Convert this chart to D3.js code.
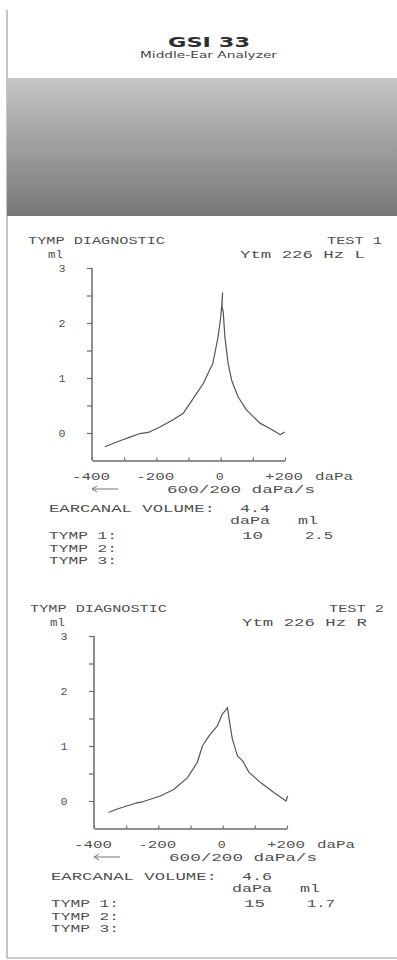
<!DOCTYPE html>
<html>
<head>
<meta charset="utf-8">
<script src="https://cdn.jsdelivr.net/npm/d3@7"></script>
<style>
  html, body { margin: 0; padding: 0; background: #fff; }
  svg { display: block; }
</style>
</head>
<body>
<svg id="chart" width="397" height="960"></svg>
<script>
// ---------------- DATA ----------------
const xTickValues = [-400, -300, -200, -100, 0, 100, 200];
const xLabelValues = [-400, -200, 0, 200];
const xLabelTexts = ["-400", "-200", "0", "+200"];
const yTickValues = [0, 0.5, 1, 1.5, 2, 2.5, 3];
const yLabelValues = [0, 1, 2, 3];

// Test 1 (L)
const test1Pressure = [-360, -335, -313, -280, -251, -225, -189, -148, -116, -85, -54, -34, -25, -18, -8, 0, 3, 6, 4, 8, 13, 23, 34, 54, 80, 122, 150, 174, 185, 199];
const test1Volume   = [-0.25, -0.19, -0.14, -0.07, -0.01, 0.01, 0.11, 0.24, 0.36, 0.63, 0.90, 1.15, 1.25, 1.45, 1.75, 2.10, 2.30, 2.55, 2.30, 2.20, 1.75, 1.27, 0.96, 0.66, 0.42, 0.18, 0.09, 0.01, -0.03, 0.02];
// Test 2 (R)
const test2Pressure = [-355, -330, -298, -270, -246, -194, -152, -110, -79, -63, -43, -30, -17, -1, 12, 15, 20, 30, 46, 62, 82, 119, 160, 197, 202];
const test2Volume   = [-0.21, -0.15, -0.09, -0.04, -0.01, 0.09, 0.21, 0.42, 0.70, 1.00, 1.18, 1.27, 1.36, 1.58, 1.67, 1.70, 1.49, 1.13, 0.82, 0.73, 0.52, 0.33, 0.15, 0.00, 0.09];

const testNames = ["TEST 1", "TEST 2"];
const probeLabels = ["Ytm 226 Hz L", "Ytm 226 Hz R"];
const earcanalVolumes = ["4.4", "4.6"];
const tymp1Pressure = ["10", "15"];
const tymp1Volume = ["2.5", "1.7"];

// ---------------- DRAW ----------------
const svg = d3.select("#chart");
const ink = "#505050";
const mono = "'Liberation Mono', 'DejaVu Sans Mono', monospace";

// paper edges
svg.append("line").attr("x1", 7).attr("x2", 7).attr("y1", 10).attr("y2", 958)
  .attr("stroke", "#8a8a8a").attr("stroke-width", 1);
svg.append("line").attr("x1", 7).attr("x2", 397).attr("y1", 958).attr("y2", 958)
  .attr("stroke", "#9a9a9a").attr("stroke-width", 1);

// header
svg.append("text").attr("x", 168).attr("y", 47)
  .attr("textLength", 82).attr("lengthAdjust", "spacingAndGlyphs")
  .style("font-family", "'DejaVu Sans', sans-serif").style("font-weight", "bold")
  .style("font-size", "14px").attr("fill", "#2e2e2e").text("GSI 33");
svg.append("text").attr("x", 140).attr("y", 58)
  .attr("textLength", 137).attr("lengthAdjust", "spacingAndGlyphs")
  .style("font-family", "'DejaVu Sans', sans-serif")
  .style("font-size", "8.5px").attr("fill", "#444").text("Middle-Ear Analyzer");

// grey band
const defs = svg.append("defs");
const grad = defs.append("linearGradient").attr("id", "band").attr("x1", 0).attr("x2", 0).attr("y1", 0).attr("y2", 1);
grad.append("stop").attr("offset", "0%").attr("stop-color", "#c6c6c6");
grad.append("stop").attr("offset", "100%").attr("stop-color", "#777777");
svg.append("rect").attr("x", 7).attr("y", 78).attr("width", 390).attr("height", 138).attr("fill", "url(#band)");

function txt(g, s, x, y, w, anchor) {
  const t = g.append("text").attr("x", x).attr("y", y)
    .style("font-family", mono).style("font-size", "11px").attr("fill", ink)
    .attr("text-anchor", anchor || "start").text(s);
  if (w) t.attr("textLength", w).attr("lengthAdjust", "spacingAndGlyphs");
  return t;
}

function panel(i, dx, dy, px, vy) {
  const g = svg.append("g").attr("transform", `translate(${dx},${dy})`);
  const x = d3.scaleLinear().domain([-400, 200]).range([92, 285]);
  const y = d3.scaleLinear().domain([-0.5, 3]).range([460.5, 268]);

  // y axis
  const ya = g.append("g").attr("transform", "translate(92,0)")
    .call(d3.axisLeft(y).tickValues(yTickValues).tickSizeInner(5).tickSizeOuter(0).tickFormat(""));
  ya.select(".domain").attr("stroke", "#6a6a6a").attr("stroke-width", 1.5)
    .attr("d", `M0,${y(3)}V${y(-0.5)}`);
  ya.selectAll(".tick line").attr("stroke", "#6a6a6a").attr("stroke-width", 1.2);

  // x axis
  const xa = g.append("g").attr("transform", `translate(0,${y(-0.5)})`)
    .call(d3.axisBottom(x).tickValues(xTickValues).tickSizeInner(-3).tickSizeOuter(0).tickFormat(""));
  xa.select(".domain").attr("stroke", "#6a6a6a").attr("stroke-width", 1.5);
  xa.selectAll(".tick line").attr("stroke", "#6a6a6a").attr("stroke-width", 1.2);

  // y labels
  yLabelValues.forEach(v => txt(g, String(v), 62, y(v) + 4, 7, "middle"));
  // x labels
  xLabelValues.forEach((v, k) => txt(g, xLabelTexts[k], x(v) - 1, 480, k === 2 ? 8 : 38, "middle"));
  txt(g, "daPa", 315, 480, 38);

  // curve
  const pts = px.map((p, k) => [p, vy[k]]);
  g.append("path").datum(pts)
    .attr("d", d3.line().x(d => x(d[0])).y(d => y(d[1])))
    .attr("fill", "none").attr("stroke", "#555").attr("stroke-width", 1.2)
    .attr("stroke-linejoin", "round");

  // texts
  txt(g, "TYMP DIAGNOSTIC", 28, 244, 137);
  txt(g, testNames[i], 382, 244, 55, "end");
  txt(g, "ml", 48, 258, 15);
  txt(g, probeLabels[i], 240, 258, 125);

  // arrow
  g.append("path").attr("d", "M92,489H118M92,489l5,-3M92,489l5,3")
    .attr("fill", "none").attr("stroke", "#777").attr("stroke-width", 1);
  txt(g, "600/200 daPa/s", 167, 493, 148);
  txt(g, "EARCANAL VOLUME:", 49, 512, 166);
  txt(g, earcanalVolumes[i], 240, 512, 30);
  txt(g, "daPa", 230, 524, 40);
  txt(g, "ml", 298, 524, 20);
  txt(g, "TYMP 1:", 49, 539, 68);
  txt(g, tymp1Pressure[i], 242, 539, 21);
  txt(g, tymp1Volume[i], 305, 539, 28);
  txt(g, "TYMP 2:", 49, 552, 68);
  txt(g, "TYMP 3:", 49, 564, 68);
}

panel(0, 0, 0, test1Pressure, test1Volume);
panel(1, 2, 368, test2Pressure, test2Volume);
</script>
</body>
</html>
